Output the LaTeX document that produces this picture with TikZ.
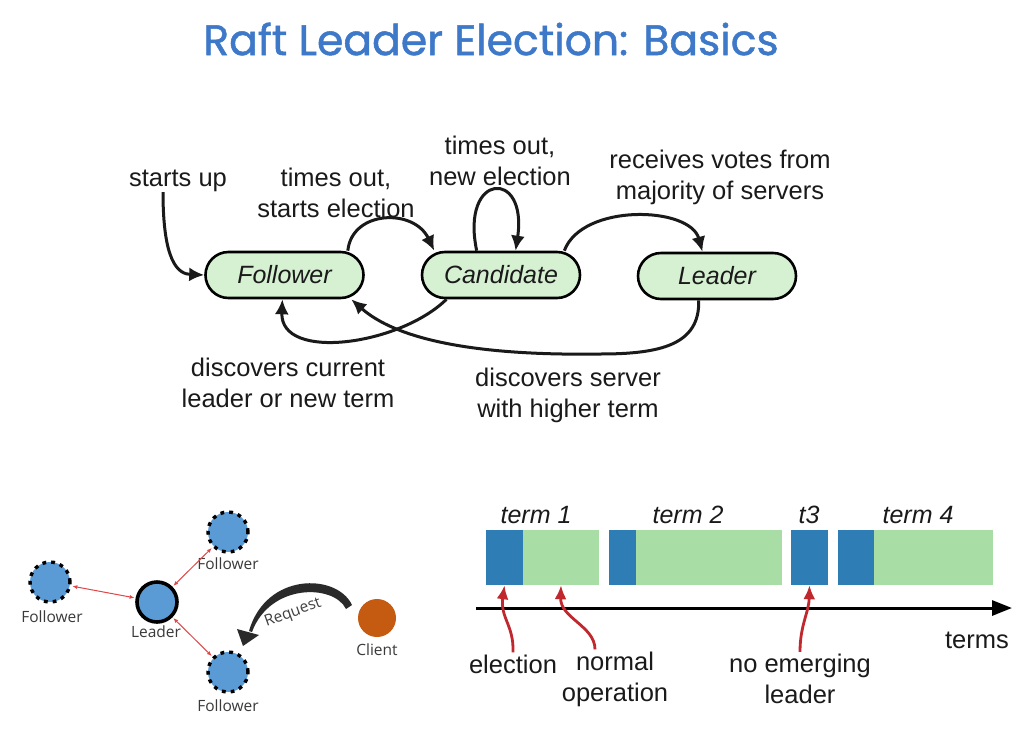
\documentclass[tikz,border=0pt]{standalone}
\usepackage{fontspec}
\setmainfont{Liberation Sans}
\newfontfamily\titlefont{Poppins}[FakeBold=1.2]
\newfontfamily\smallfont{Open Sans}
\usetikzlibrary{arrows.meta,calc}
\definecolor{titleblue}{HTML}{3D78C9}
\definecolor{stgreen}{HTML}{D6F1D2}
\definecolor{txt}{HTML}{1A1A1A}
\definecolor{nodeblue}{HTML}{5B9BD5}
\definecolor{clientor}{HTML}{C55A11}
\definecolor{linkred}{HTML}{E04848}
\definecolor{barblue}{HTML}{2E7DB5}
\definecolor{bargreen}{HTML}{A9DDA6}
\definecolor{arrred}{HTML}{C0282D}
\definecolor{smalltxt}{HTML}{3A3A3A}
\definecolor{reqgray}{HTML}{2A2A2A}
\tikzset{
  stnode/.style={draw=black, line width=2.6pt, fill=stgreen, rounded corners=23pt,
    minimum width=158pt, minimum height=46pt, inner sep=0pt,
    font=\fontsize{25}{30}\selectfont\itshape, text=txt},
  starr/.style={line width=3pt, draw=txt, -{Latex[length=15pt,width=14pt]}},
  lbl/.style={align=center, inner sep=0pt, font=\fontsize{25.5}{31}\selectfont, text=txt},
  tlbl/.style={inner sep=0pt, font=\fontsize{25}{30}\selectfont\itshape, text=txt},
  follow/.style={circle, minimum size=40pt, inner sep=0pt, fill=nodeblue, draw=black,
    line width=3.4pt, dash pattern=on 3.8pt off 5pt},
  lead/.style={circle, minimum size=40pt, inner sep=0pt, fill=nodeblue, draw=black, line width=3.6pt},
  client/.style={circle, minimum size=38pt, inner sep=0pt, fill=clientor},
  slbl/.style={inner sep=0pt, font=\smallfont\fontsize{15.5}{17}\selectfont, text=smalltxt},
  redlink/.style={draw=linkred, line width=1pt, {Latex[length=5pt,width=4pt]}-{Latex[length=5pt,width=4pt]}},
  barb/.style={fill=barblue, inner sep=0pt, minimum height=55pt},
  barg/.style={fill=bargreen, inner sep=0pt, minimum height=55pt},
  redarr/.style={draw=arrred, line width=2.8pt, -{Latex[length=14pt,width=12pt]}},
}
\begin{document}
\begin{tikzpicture}[x=1pt,y=-1pt]
\useasboundingbox[fill=white] (0,0) rectangle (1024,747);

% title
\node[inner sep=0pt, text=titleblue, font=\titlefont\fontsize{42.5}{48}\selectfont] (title) at (491,39) {Raft Leader Election: Basics};

% state machine
\node[stnode] (F) at (284.5,275) {Follower};
\node[stnode] (C) at (501,275) {Candidate};
\node[stnode] (L) at (717,276) {Leader};

\node[lbl] (lsu) at (178,181) {starts up};
\node[lbl] (lto) at (336,193) {times out,\\starts election};
\node[lbl] (lne) at (500,161) {times out,\\new election};
\node[lbl] (lrv) at (720,177) {receives votes from\\majority of servers};
\node[lbl] (ldc) at (288,383) {discovers current\\leader or new term};
\node[lbl] (lds) at (568,395) {discovers server\\with higher term};

\draw[starr] (lsu.south -| 163,0) .. controls (163,262) and (178,274) .. (F.west);
\draw[starr] (F.21) .. controls (352,210) and (414,208) .. (C.160);
\draw[starr] (C.135) .. controls (460,172) and (528,168) .. (C.59);
\draw[starr] (C.21) .. controls (582,203) and (690,206) .. (L.121);
\draw[starr] (C.204) .. controls (400,345) and (280,362) .. (F.-95);
\draw[starr] (L.-127) .. controls (700,345) and (660,354) .. (600,354)
  .. controls (470,356) and (395,338) .. (F.-20);

% cluster
\node[lead] (LD) at (157,602) {};
\node[follow] (FT) at (228,532) {};
\node[follow] (FL) at (50,582) {};
\node[follow] (FB) at (228,672) {};
\node[client] (CL) at (377,618) {};
\node[slbl] (tFT) at (228,564) {Follower};
\node[slbl] (tFL) at (52,617) {Follower};
\node[slbl] (tLD) at (156,632) {Leader};
\node[slbl] (tFB) at (228,706) {Follower};
\node[slbl] (tCL) at (377,650) {Client};
\draw[redlink, shorten <=1pt, shorten >=1pt] (LD) -- (FL);
\draw[redlink, shorten <=1pt, shorten >=1pt] (LD) -- (FT);
\draw[redlink, shorten <=1pt, shorten >=1pt] (LD) -- (FB);
% request arrow (tapered body + head)
\fill[reqgray] (352,605) .. controls (337,573) and (266,572) .. (249,631)
  -- (252,632) .. controls (270,583) and (334,584) .. (346,609) -- cycle;
\fill[reqgray] (243,646) -- (237,629) -- (259,635) -- cycle;
\node[slbl, rotate=20, text=black!75] (treq) at (293,613) {Request};

% timeline
\node[barb, minimum width=37pt] (B1) at (504.5,557.5) {};
\node[barg, minimum width=76pt] (G1) at (561,557.5) {};
\node[barb, minimum width=27pt] (B2) at (622.5,557.5) {};
\node[barg, minimum width=146pt] (G2) at (709,557.5) {};
\node[barb, minimum width=37pt] (B3) at (809.5,557.5) {};
\node[barb, minimum width=36pt] (B4) at (856,557.5) {};
\node[barg, minimum width=119pt] (G4) at (933.5,557.5) {};

\node[tlbl] (t1) at (536,515) {term 1};
\node[tlbl] (t2) at (688,515) {term 2};
\node[tlbl] (t3) at (809,515) {t3};
\node[tlbl] (t4) at (918,515) {term 4};

\coordinate (ax0) at (476,608);
\coordinate (ax1) at (1012,608);
\draw[line width=3pt, -{Triangle[length=20pt,width=15pt]}] (ax0) -- (ax1);
\node[lbl] (lterms) at (977,640) {terms};

\node[lbl] (lel) at (513,664) {election};
\node[lbl] (lno) at (615,679) {normal\\operation};
\node[lbl] (lem) at (800,679) {no emerging\\leader};

\draw[redarr] (lel.north) ++(0,-2) .. controls (514,625) and (500,618) .. (B1.south);
\draw[redarr] ($(lno.north)+(-20,-2)$) .. controls (595,626) and (560,618) .. (G1.south);
\draw[redarr] ($(lem.north)+(0,-2)$) .. controls (800,625) and (809,612) .. (B3.south);
\end{tikzpicture}
\end{document}
